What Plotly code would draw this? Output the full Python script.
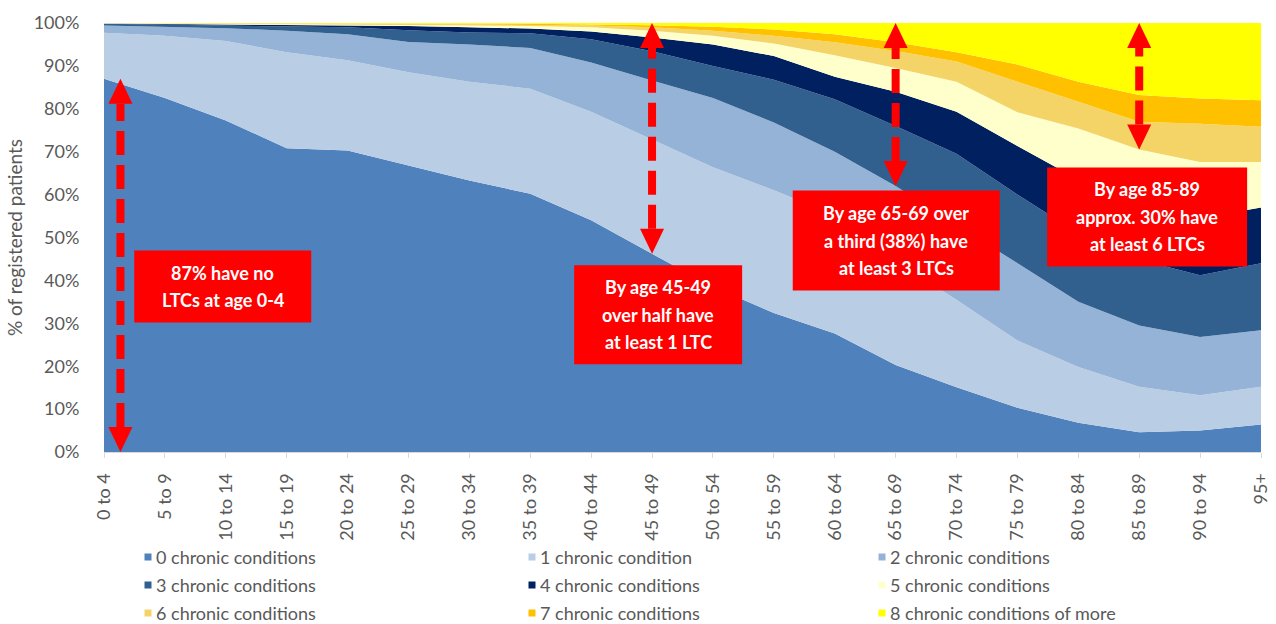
import plotly.graph_objects as go

# ---- data: share of registered patients (%) by number of long-term conditions ----
age_bands = ["0 to 4", "5 to 9", "10 to 14", "15 to 19", "20 to 24", "25 to 29",
             "30 to 34", "35 to 39", "40 to 44", "45 to 49", "50 to 54", "55 to 59",
             "60 to 64", "65 to 69", "70 to 74", "75 to 79", "80 to 84", "85 to 89",
             "90 to 94", "95+"]

cond_0 = [87.0, 82.5, 77.3, 70.8, 70.3, 66.8, 63.3, 60.2, 54.0, 46.2,
          38.5, 32.4, 27.6, 20.3, 15.1, 10.3, 6.8, 4.6, 5.0, 6.4]
cond_1 = [10.7, 14.5, 18.5, 22.4, 21.0, 21.7, 23.0, 24.5, 25.3, 26.6,
          27.9, 28.6, 27.6, 24.2, 20.4, 15.7, 13.0, 10.6, 8.2, 8.8]
cond_2 = [1.7, 2.1, 3.0, 5.0, 6.1, 7.1, 8.7, 9.5, 11.5, 13.8,
          16.1, 15.8, 14.8, 17.5, 17.5, 18.0, 15.2, 14.3, 13.6, 13.2]
cond_3 = [0.4, 0.5, 0.6, 1.1, 1.6, 2.7, 2.8, 3.4, 5.4, 6.8,
          7.5, 10.0, 12.2, 14.0, 16.5, 16.0, 16.0, 15.3, 14.4, 15.6]
cond_4 = [0.1, 0.2, 0.3, 0.3, 0.5, 1.0, 1.2, 1.1, 1.8, 3.2,
          5.0, 5.5, 5.3, 8.0, 9.8, 11.3, 12.5, 14.2, 13.3, 13.0]
cond_5 = [0.1, 0.1, 0.1, 0.2, 0.2, 0.3, 0.5, 0.6, 1.0, 1.6,
          2.0, 2.9, 5.0, 5.5, 7.0, 7.9, 11.9, 11.5, 13.1, 10.6]
cond_6 = [0.0, 0.1, 0.1, 0.1, 0.15, 0.2, 0.2, 0.3, 0.4, 0.8,
          1.2, 1.8, 3.0, 4.0, 4.7, 7.1, 6.2, 6.5, 8.9, 8.2]
cond_7 = [0.0, 0.0, 0.05, 0.05, 0.05, 0.1, 0.15, 0.2, 0.3, 0.5,
          0.9, 1.5, 1.9, 2.0, 2.2, 4.0, 4.7, 6.2, 5.9, 6.2]
cond_8 = [0.0, 0.0, 0.05, 0.05, 0.1, 0.1, 0.15, 0.2, 0.3, 0.5,
          0.9, 1.5, 2.6, 4.5, 6.8, 9.7, 13.7, 16.8, 17.6, 18.0]

series_names = ["0 chronic conditions", "1 chronic condition", "2 chronic conditions",
                "3 chronic conditions", "4 chronic conditions", "5 chronic conditions",
                "6 chronic conditions", "7 chronic conditions", "8 chronic conditions of more"]
series_values = [cond_0, cond_1, cond_2, cond_3, cond_4, cond_5, cond_6, cond_7, cond_8]
series_colors = ["#4F81BD", "#B9CDE5", "#95B3D7", "#31608F", "#002060",
                 "#FFFFCC", "#F4D466", "#FFC000", "#FFFF00"]

# ---- layout geometry (pixels) ----
FIG_W, FIG_H = 1276, 624
M_L, M_R, M_T, M_B = 104, 15, 23, 172
PLOT_W = FIG_W - M_L - M_R
PLOT_H = FIG_H - M_T - M_B
X_MAX = len(age_bands) - 1
PX_PER_X = PLOT_W / X_MAX      # pixels per category step
PX_PER_Y = PLOT_H / 100.0      # pixels per percentage point

GREY = "#595959"
FONT = "Lato"

x_idx = list(range(len(age_bands)))

fig = go.Figure()

for name, vals, col in zip(series_names, series_values, series_colors):
    fig.add_trace(go.Scatter(
        x=x_idx, y=vals, name=name, stackgroup="ltc",
        mode="lines", line=dict(width=0, color=col),
        fillcolor=col, showlegend=False, hoverinfo="skip",
    ))


def cumulative(upto, i):
    return sum(series_values[k][i] for k in range(upto + 1))


def dashed_double_arrow(x, y_low, y_high):
    head_len = 25 / PX_PER_Y
    half_w = 12 / PX_PER_X
    red = "#FF0000"
    fig.add_shape(type="line", xref="x", yref="y",
                  x0=x, x1=x, y0=y_low + head_len, y1=y_high - head_len,
                  line=dict(color=red, width=8, dash="24px,10px"), layer="above")
    fig.add_shape(type="path", xref="x", yref="y", layer="above",
                  path=f"M {x - half_w},{y_high - head_len} L {x + half_w},{y_high - head_len} L {x},{y_high} Z",
                  fillcolor=red, line=dict(width=0))
    fig.add_shape(type="path", xref="x", yref="y", layer="above",
                  path=f"M {x - half_w},{y_low + head_len} L {x + half_w},{y_low + head_len} L {x},{y_low} Z",
                  fillcolor=red, line=dict(width=0))


def callout(xc, yc, w_px, h_px, lines, gap=27.5):
    dx = w_px / 2 / PX_PER_X
    dy = h_px / 2 / PX_PER_Y
    fig.add_shape(type="rect", xref="x", yref="y", layer="above",
                  x0=xc - dx, x1=xc + dx, y0=yc - dy, y1=yc + dy,
                  fillcolor="#FF0000", line=dict(width=0))
    n = len(lines)
    for k, txt in enumerate(lines):
        fig.add_annotation(x=xc, y=yc, xref="x", yref="y", text=txt,
                           showarrow=False, yshift=((n - 1) / 2 - k) * gap,
                           font=dict(family=FONT, size=18, color="white", weight="bold"))


# arrows spanning the highlighted shares
dashed_double_arrow(0.27, 0, cond_0[0])
dashed_double_arrow(9, cumulative(0, 9), 100)
dashed_double_arrow(13, cumulative(2, 13), 100)
dashed_double_arrow(17, cumulative(5, 17), 100)

callout(1.95, 38.6, 177, 72, ["87% have no", "LTCs at age 0-4"])
callout(9.10, 32.0, 168, 99, ["By age 45-49", "over half have", "at least 1 LTC"])
callout(13.01, 49.3, 207, 100, ["By age 65-69 over", "a third (38%) have", "at least 3 LTCs"])
callout(17.13, 54.8, 200, 99, ["By age 85-89", "approx. 30% have", "at least 6 LTCs"])

# legend: three columns of small square keys below the chart
LEG_COL_X = [148, 532, 882]    # key centre, pixels from the left
LEG_ROW_Y = [557, 585, 613]    # row centre, pixels from the top
plot_bottom = M_T + PLOT_H
for k, (name, col) in enumerate(zip(series_names, series_colors)):
    cx = LEG_COL_X[k % 3]
    cy = LEG_ROW_Y[k // 3]
    px0 = (cx - 3.5 - M_L) / PLOT_W
    px1 = (cx + 3.5 - M_L) / PLOT_W
    py0 = (plot_bottom - (cy + 3.5)) / PLOT_H
    py1 = (plot_bottom - (cy - 3.5)) / PLOT_H
    fig.add_shape(type="rect", xref="paper", yref="paper",
                  x0=px0, x1=px1, y0=py0, y1=py1,
                  fillcolor=col, line=dict(width=0))
    fig.add_annotation(xref="paper", yref="paper",
                       x=(cx + 6 - M_L) / PLOT_W, y=(plot_bottom - cy) / PLOT_H,
                       xanchor="left", yanchor="middle", showarrow=False,
                       text=name, font=dict(family=FONT, size=18, color=GREY))

fig.update_layout(
    width=FIG_W, height=FIG_H,
    margin=dict(l=M_L, r=M_R, t=M_T, b=M_B, autoexpand=False),
    paper_bgcolor="white", plot_bgcolor="white",
    font=dict(family=FONT, color=GREY),
    showlegend=False,
)

fig.update_xaxes(
    range=[0, X_MAX], tickmode="array", tickvals=x_idx, ticktext=age_bands,
    tickangle=-90, tickfont=dict(family=FONT, size=18, color=GREY),
    ticks="outside", ticklen=5, tickcolor="#D9D9D9", ticklabelstandoff=8,
    showline=True, linecolor="#D9D9D9", showgrid=False, zeroline=False,
)
fig.update_yaxes(
    range=[0, 100], dtick=10, ticksuffix="%",
    tickfont=dict(family=FONT, size=18, color=GREY),
    ticks="outside", ticklen=0, ticklabelstandoff=20,
    showgrid=False, zeroline=False, showline=False,
    title=dict(text="% of registered patients", standoff=6,
               font=dict(family=FONT, size=19, color=GREY)),
)

fig.write_html("out.html")
